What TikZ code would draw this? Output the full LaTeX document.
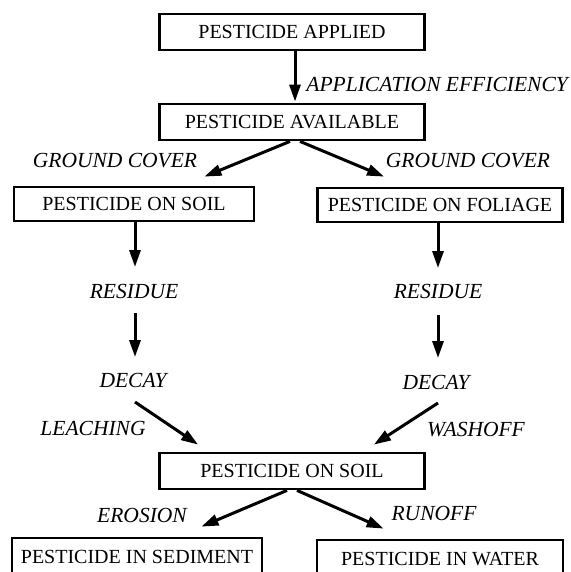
\documentclass[tikz,border=0pt]{standalone}
\usepackage{fontspec}
\setmainfont{Liberation Serif}
\usetikzlibrary{arrows.meta}
\begin{document}
\begin{tikzpicture}[x=1pt,y=-1pt,
  box/.style={draw,line width=2.8pt,inner sep=0pt,minimum height=36pt,font=\fontsize{20}{23}\selectfont},
  lab/.style={inner sep=0pt,font=\fontsize{21.5}{25}\selectfont\itshape},
  arr/.style={line width=3pt,-{Triangle[length=17pt,width=11pt]}}]
\useasboundingbox[fill=white] (0,0) rectangle (570,572);
% boxes
\node[box,minimum width=265pt] (a1) at (292,32) {PESTICIDE APPLIED};
\node[box,minimum width=265pt] (a2) at (292,122) {PESTICIDE AVAILABLE};
\node[box,minimum width=240pt,minimum height=34pt] (s1) at (134,204) {PESTICIDE ON SOIL};
\node[box,minimum width=245pt,minimum height=34pt] (f1) at (440,205) {PESTICIDE ON FOLIAGE};
\node[box,minimum width=265pt] (s2) at (292,471) {PESTICIDE ON SOIL};
\node[box,minimum width=250pt,minimum height=38pt] (sed) at (137,557) {PESTICIDE IN SEDIMENT};
\node[box,minimum width=246pt,minimum height=38pt] (wat) at (440,559) {PESTICIDE IN WATER};
% labels
\node[lab,anchor=east] (ae) at (568,84) {APPLICATION EFFICIENCY};
\node[lab] (gc1) at (115,161) {GROUND COVER};
\node[lab] (gc2) at (468,161) {GROUND COVER};
\node[lab] (r1) at (134,291) {RESIDUE};
\node[lab] (r2) at (438,291) {RESIDUE};
\node[lab] (d1) at (133,380) {DECAY};
\node[lab] (d2) at (436,382) {DECAY};
\node[lab] (le) at (93,428) {LEACHING};
\node[lab] (wa) at (476,430) {WASHOFF};
\node[lab] (er) at (142,515) {EROSION};
\node[lab] (ru) at (434,513) {RUNOFF};
% arrows
\draw[arr] ([xshift=3pt]a1.south) -- ([xshift=3pt,yshift=1pt]a2.north);
\draw[arr] ([xshift=-2pt]a2.south) -- ([xshift=-51pt,yshift=9pt]s1.north east);
\draw[arr] ([xshift=8pt]a2.south) -- ([xshift=68pt,yshift=10pt]f1.north west);
\draw[arr] ([xshift=1pt]s1.south) -- ([xshift=1pt,yshift=24pt]r1.center);
\draw[arr] ([xshift=1pt,yshift=-22pt]r1.center) -- ([xshift=2pt,yshift=23pt]d1.center);
\draw[arr] ([xshift=-2pt]f1.south) -- ([yshift=23pt]r2.center);
\draw[arr] ([yshift=-24pt]r2.center) -- ([xshift=2pt,yshift=24pt]d2.center);
\draw[arr] ([xshift=2pt,yshift=-22pt]d1.center) -- ([xshift=40pt,yshift=7pt]s2.north west);
\draw[arr] ([xshift=2pt,yshift=-21pt]d2.center) -- ([xshift=-52pt,yshift=7pt]s2.north east);
\draw[arr] ([xshift=-5pt]s2.south) -- ([xshift=-62pt,yshift=10pt]sed.north east);
\draw[arr] ([xshift=5pt]s2.south) -- ([xshift=68pt,yshift=10pt]wat.north west);
\end{tikzpicture}
\end{document}
